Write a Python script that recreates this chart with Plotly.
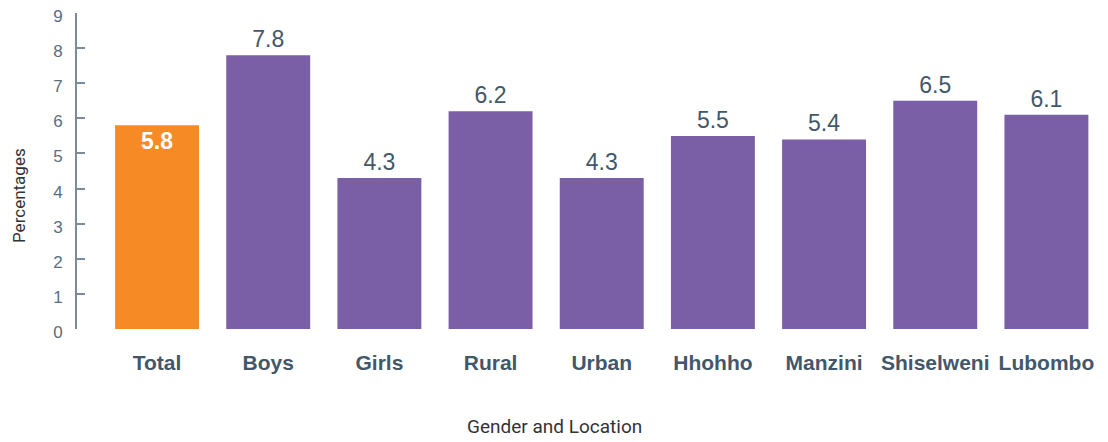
import plotly.graph_objects as go

categories = ["Total", "Boys", "Girls", "Rural", "Urban", "Hhohho", "Manzini", "Shiselweni", "Lubombo"]
values = [5.8, 7.8, 4.3, 6.2, 4.3, 5.5, 5.4, 6.5, 6.1]

ORANGE = "#F68B26"
PURPLE = "#7A5EA6"
TEXT = "#43576A"

colors = [ORANGE] + [PURPLE] * (len(categories) - 1)
positions = ["inside"] + ["outside"] * (len(categories) - 1)
labels = [f"<b>{v}</b>" if i == 0 else f"{v}" for i, v in enumerate(values)]

fig = go.Figure()
fig.add_trace(go.Bar(
    x=categories, y=values,
    marker=dict(color=colors, line=dict(width=0)),
    width=0.755,
    text=labels,
    textposition=positions,
    insidetextanchor="end",
    outsidetextfont=dict(color=TEXT, size=23, family="Liberation Sans"),
    insidetextfont=dict(color="white", size=23, family="Liberation Sans"),
    cliponaxis=False,
    showlegend=False,
))

fig.update_xaxes(
    range=[-0.72, 8.5], automargin=False,
    showline=False, showgrid=False, zeroline=False,
    ticks="", ticklabelstandoff=19, tickangle=0,
    tickfont=dict(family="Liberation Sans", size=21, color=TEXT, weight="bold"),
)
fig.update_yaxes(
    range=[0, 9], dtick=1, automargin=False,
    showline=True, linecolor="#7B8B99", linewidth=2,
    ticks="inside", ticklen=8, tickcolor="#7B8B99", tickwidth=2,
    showgrid=False, zeroline=False,
    tickfont=dict(family="Liberation Sans", size=17, color="#5C6D7D"),
    ticklabelstandoff=9, ticklabeloverflow="allow", ticklabelshift=3,
)
fig.add_annotation(
    text="Percentages", xref="paper", yref="paper",
    x=-0.0566, y=0.424, xanchor="center", yanchor="middle", textangle=-90,
    showarrow=False, font=dict(family="Roboto", size=17, color="#333333"),
)
fig.add_annotation(
    text="Gender and Location", xref="paper", yref="paper",
    x=0.466, y=-0.307, xanchor="center", yanchor="middle", showarrow=False,
    font=dict(family="Roboto", size=19, color="#333333"),
)
# page body has an 8px margin, so the figure is 8px smaller than the window
fig.update_layout(
    width=1100, height=434,
    margin=dict(l=69, r=6, t=5, b=113),
    paper_bgcolor="white", plot_bgcolor="white",
)
fig.write_html("out.html")
